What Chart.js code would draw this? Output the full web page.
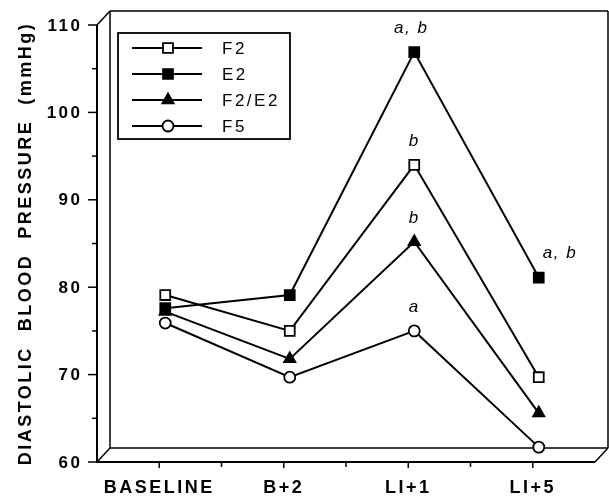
<!DOCTYPE html>
<html>
<head>
<meta charset="utf-8">
<script src="https://cdn.jsdelivr.net/npm/chart.js@4.4.1/dist/chart.umd.min.js"></script>
<style>
  body { margin: 0; background: #fff; }
  canvas { display: block; }
</style>
</head>
<body>
<canvas id="bpChart" width="609" height="499"></canvas>
<script>
const categories = ["BASELINE", "B+2", "LI+1", "LI+5"];

const f2Values = [79.1, 75.0, 94.0, 69.7];
const e2Values = [77.6, 79.1, 106.9, 81.1];
const f2e2Values = [77.2, 71.8, 85.2, 65.6];
const f5Values = [75.9, 69.7, 75.0, 61.7];

const yTicks = [60, 70, 80, 90, 100, 110];
const yMinorTicks = [65, 75, 85, 95, 105];

// significance letters over the points, same order as categories
const f2Marks = ["", "", "b", ""];
const e2Marks = ["", "", "a, b", "a, b"];
const f2e2Marks = ["", "", "b", ""];
const f5Marks = ["", "", "a", ""];

const FONT = "'Liberation Sans', Arial, Helvetica, sans-serif";
const DX = 13, DY = -14;   // depth of the box
const SHIFT = 6;           // points sit a little inside the box

function seg(ctx, x1, y1, x2, y2) {
    ctx.beginPath();
    ctx.moveTo(x1, y1);
    ctx.lineTo(x2, y2);
    ctx.stroke();
}

function marker(ctx, style, r, filled, x, y) {
    ctx.beginPath();
    if (style === "rect") {
        const s = r * Math.SQRT1_2;
        ctx.rect(x - s, y - s, 2 * s, 2 * s);
    } else if (style === "triangle") {
        for (let k = 0; k < 3; k++) {
            const a = k * 2 * Math.PI / 3;
            ctx[k ? "lineTo" : "moveTo"](x + Math.sin(a) * r, y - Math.cos(a) * r);
        }
        ctx.closePath();
    } else {
        ctx.arc(x, y, r, 0, 2 * Math.PI);
    }
    ctx.fillStyle = filled ? "#000" : "#fff";
    ctx.fill();
    ctx.stroke();
}

const boxPlugin = {
    id: "box3d",
    beforeDraw(chart) {
        chart.ctx.letterSpacing = "2.5px";
    },
    beforeDatasetsDraw(chart) {
        const ctx = chart.ctx;
        const { left, right, top, bottom } = chart.chartArea;
        const x = chart.scales.x, y = chart.scales.y;
        ctx.save();
        ctx.strokeStyle = "#000";
        ctx.fillStyle = "#000";

        // y tick labels, tracked out like the original
        ctx.letterSpacing = "2.5px";
        ctx.font = "bold 17px " + FONT;
        ctx.textAlign = "right";
        ctx.textBaseline = "middle";
        y.ticks.forEach(t => {
            ctx.fillText(String(t.value), left - 14.5, y.getPixelForValue(t.value) + 1);
        });
        ctx.letterSpacing = "0px";

        // back wall and floor
        ctx.lineWidth = 1.5;
        seg(ctx, left + DX, top + DY, right + DX, top + DY);
        seg(ctx, left + DX, top + DY, left + DX, bottom + DY);
        seg(ctx, right + DX, top + DY, right + DX, bottom + DY);
        seg(ctx, left + DX, bottom + DY, right + DX, bottom + DY);
        seg(ctx, left, top, left + DX, top + DY);
        seg(ctx, left, bottom, left + DX, bottom + DY);
        seg(ctx, right, bottom, right + DX, bottom + DY);

        // front axes
        ctx.lineWidth = 2;
        seg(ctx, left, top, left, bottom + 1);
        seg(ctx, left - 1, bottom, right, bottom);

        ctx.lineWidth = 1.5;
        yTicks.forEach(v => { const p = y.getPixelForValue(v); seg(ctx, left - 9, p, left, p); });
        yMinorTicks.forEach(v => { const p = y.getPixelForValue(v); seg(ctx, left - 5, p, left, p); });
        categories.forEach((c, i) => {
            const p = x.getPixelForValue(i);
            seg(ctx, p, bottom, p, bottom + 6);
            if (i < categories.length - 1) {
                const q = (p + x.getPixelForValue(i + 1)) / 2;
                seg(ctx, q, bottom, q, bottom + 5);
            }
        });
        ctx.restore();

        ctx.save();
        ctx.translate(SHIFT, 0);
    },
    afterDatasetsDraw(chart) {
        const ctx = chart.ctx;
        ctx.restore();
        ctx.save();
        ctx.fillStyle = "#000";
        ctx.strokeStyle = "#000";

        // letters over the points
        ctx.letterSpacing = "1.5px";
        ctx.font = "italic 17px " + FONT;
        ctx.textBaseline = "alphabetic";
        chart.data.datasets.forEach((ds, di) => {
            const meta = chart.getDatasetMeta(di);
            ds.marks.forEach((t, i) => {
                if (!t) return;
                const pt = meta.data[i];
                if (i === categories.length - 1) {
                    ctx.textAlign = "left";
                    ctx.fillText(t, pt.x + SHIFT + 4, pt.y - 20);
                } else {
                    ctx.textAlign = "center";
                    ctx.fillText(t, pt.x + SHIFT - (t.length > 1 ? 3 : 0), pt.y - 19);
                }
            });
        });

        // legend
        ctx.lineWidth = 1.8;
        ctx.strokeRect(118, 33, 172, 106);
        ctx.letterSpacing = "2.5px";
        ctx.font = "17px " + FONT;
        ctx.textAlign = "left";
        ctx.textBaseline = "middle";
        chart.data.datasets.forEach((ds, i) => {
            const ry = 48 + i * 26;
            ctx.lineWidth = 2;
            seg(ctx, 132, ry, 202, ry);
            ctx.lineWidth = ds.pointBorderWidth;
            marker(ctx, ds.pointStyle, ds.pointRadius, ds.pointBackgroundColor === "#000", 168, ry);
            ctx.fillStyle = "#000";
            ctx.fillText(ds.label, 222, ry + 1);
        });
        ctx.restore();
    },
    afterDraw(chart) {
        chart.ctx.letterSpacing = "0px";
    }
};

function series(label, values, marks, style, radius, filled) {
    return {
        label: label,
        data: values,
        marks: marks,
        borderColor: "#000",
        borderWidth: 2,
        pointStyle: style,
        pointRadius: radius,
        pointBackgroundColor: filled ? "#000" : "#fff",
        pointBorderColor: "#000",
        pointBorderWidth: 1.8,
        tension: 0,
        clip: false
    };
}

new Chart(document.getElementById("bpChart"), {
    type: "line",
    data: {
        labels: categories,
        datasets: [
            series("F2", f2Values, f2Marks, "rect", 7, false),
            series("E2", e2Values, e2Marks, "rect", 7, true),
            series("F2/E2", f2e2Values, f2e2Marks, "triangle", 6.5, true),
            series("F5", f5Values, f5Marks, "circle", 5.5, false)
        ]
    },
    options: {
        responsive: false,
        animation: false,
        events: [],
        layout: { padding: { top: 25, right: 14, left: 0, bottom: 0 } },
        plugins: { legend: { display: false }, tooltip: { enabled: false } },
        scales: {
            x: {
                offset: true,
                grid: { display: false, drawTicks: false },
                border: { display: false },
                ticks: {
                    color: "#000",
                    padding: 15,
                    maxRotation: 0,
                    autoSkip: false,
                    font: { family: FONT, size: 18, weight: "bold" }
                },
                afterFit: s => { s.height = 37; }
            },
            y: {
                min: 60,
                max: 110,
                grid: { display: false, drawTicks: false },
                border: { display: false },
                afterBuildTicks: s => { s.ticks = yTicks.map(v => ({ value: v })); },
                ticks: { display: false },
                title: {
                    display: true,
                    text: "DIASTOLIC  BLOOD  PRESSURE  (mmHg)",
                    color: "#000",
                    padding: { top: 15, bottom: 0 },
                    font: { family: FONT, size: 18, weight: "bold" }
                },
                afterFit: s => { s.width = 97; }
            }
        }
    },
    plugins: [boxPlugin]
});
</script>
</body>
</html>
